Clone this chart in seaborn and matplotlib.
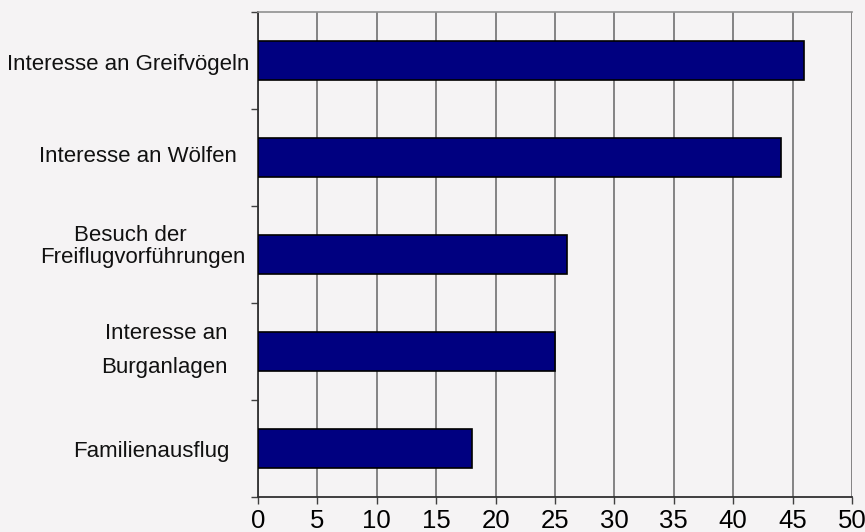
import matplotlib
matplotlib.use("Agg")
import matplotlib.pyplot as plt
import seaborn as sns
import pandas as pd
from matplotlib.ticker import FixedLocator

categories = ["Interesse an Greifvögeln", "Interesse an Wölfen",
              "Besuch der Freiflugvorführungen", "Interesse an Burganlagen",
              "Familienausflug"]
values = [46, 44, 26, 25, 18]
label_texts = ["Interesse an Greifvögeln", "Interesse an Wölfen",
               "Besuch der\nFreiflugvorführungen", "Interesse an\nBurganlagen",
               "Familienausflug"]
x_ticks = [0, 5, 10, 15, 20, 25, 30, 35, 40, 45, 50]

sns.set_style("white")
plt.rcParams['font.family'] = ['Liberation Sans', 'DejaVu Sans']

W, H = 865, 532
bg = "#f5f3f4"
fig = plt.figure(figsize=(W/100, H/100), dpi=100, facecolor=bg)
ax = fig.add_axes([258/W, 1-497/H, 594/W, 485/H])
ax.set_facecolor(bg)

df = pd.DataFrame({"cat": categories, "val": values})
sns.barplot(data=df, y="cat", x="val", orient="h", color="#000080",
            edgecolor="black", linewidth=1.2, width=0.4, saturation=1, ax=ax, zorder=3)

ax.set_xlim(0, 50)
ax.set_ylim(4.5, -0.5)
ax.xaxis.set_major_locator(FixedLocator(x_ticks))
ax.set_xticklabels([str(t) for t in x_ticks], fontsize=18.5)
ax.grid(axis="x", color="#707070", linewidth=1.2, zorder=0)
ax.grid(axis="y", visible=False)
ax.set_xlabel("")
ax.set_ylabel("")

ax.set_yticks([])
ax.yaxis.set_minor_locator(FixedLocator([-0.5, 0.5, 1.5, 2.5, 3.5, 4.5]))
ax.tick_params(axis="y", which="minor", left=True, length=5, width=1, color="#404040")
ax.tick_params(axis="x", bottom=True, length=5, width=1, color="#404040", pad=4, labelcolor="black")

for s in ["left", "bottom"]:
    ax.spines[s].set_color("#303030")
    ax.spines[s].set_linewidth(1.3)
ax.spines["top"].set_color("#909090")
ax.spines["top"].set_linewidth(1.2)
ax.spines["right"].set_visible(False)

# per-line placement (center x, baseline y in pixels) mimicking the original layout
line_pos = [[(128, 70)], [(137.5, 162)], [(130, 241), (142.5, 263)],
            [(166.5, 339), (164, 373)], [(151, 457)]]
for txt, poss in zip(label_texts, line_pos):
    for line, (cx, by) in zip(txt.split("\n"), poss):
        fig.text(cx/W, 1-by/H, line, ha="center", va="baseline",
                 fontsize=16, color="#111111")

fig.savefig("out.png", dpi=100, facecolor=bg)
